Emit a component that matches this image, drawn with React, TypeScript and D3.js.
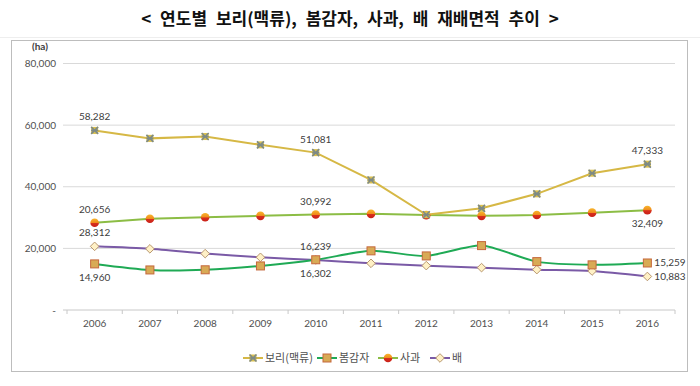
import React from "react";
import * as d3 from "d3";

const years = ["2006","2007","2008","2009","2010","2011","2012","2013","2014","2015","2016"];
const barley = [58282, 55700, 56300, 53600, 51081, 42200, 30900, 33000, 37700, 44400, 47333];
const potato = [14960, 13000, 13050, 14300, 16302, 19200, 17550, 20900, 15700, 14650, 15259];
const apple = [28312, 29600, 30100, 30550, 30992, 31200, 30800, 30550, 30850, 31600, 32409];
const pear = [20656, 19850, 18300, 17100, 16239, 15150, 14400, 13750, 13100, 12650, 10883];
const yTicks = [0, 20000, 40000, 60000, 80000];
const seriesNames = ["보리(맥류)", "봄감자", "사과", "배"];

// data labels: series index, year index, text, placement
const labels = [
  { s: 0, i: 0, text: "58,282", pos: "above" },
  { s: 0, i: 4, text: "51,081", pos: "above" },
  { s: 0, i: 10, text: "47,333", pos: "above" },
  { s: 2, i: 0, text: "20,656", pos: "above" },
  { s: 2, i: 4, text: "30,992", pos: "above" },
  { s: 2, i: 10, text: "32,409", pos: "below" },
  { s: 3, i: 0, text: "28,312", pos: "above" },
  { s: 1, i: 0, text: "14,960", pos: "below" },
  { s: 3, i: 4, text: "16,239", pos: "above" },
  { s: 1, i: 4, text: "16,302", pos: "below" },
  { s: 1, i: 10, text: "15,259", pos: "right" },
  { s: 3, i: 10, text: "10,883", pos: "right" },
];

const W = 700, H = 386;
const plot = { left: 67, right: 675, top: 63.5, bottom: 310 };
const numFont = "Lato, 'Noto Sans', sans-serif";
const krFont = "'Noto Sans CJK KR', 'Noto Sans', sans-serif";

const colors = {
  barley: "#d6b845",
  potato: "#1faa55",
  apple: "#8cbd45",
  pear: "#7a5aa6",
};

function Marker({ kind, x, y }: { kind: number; x: number; y: number }) {
  if (kind === 0) {
    const s = 3.5;
    return (
      <g transform={`translate(${x},${y})`}>
        <rect x={-s} y={-s} width={2 * s} height={2 * s} fill="#d9bf4e" />
        <path d={`M${-s},${-s}L${s},${s}M${-s},${s}L${s},${-s}M${-s},0L${s},0`} stroke="#7d8a86" strokeWidth={1.6} />
      </g>
    );
  }
  if (kind === 1) {
    const s = 4;
    return <rect x={x - s} y={y - s} width={2 * s} height={2 * s} fill="#d8aa55" stroke="#c5683c" strokeWidth={1} />;
  }
  if (kind === 2) {
    return <circle cx={x} cy={y} r={4.3} fill="url(#appleGrad)" />;
  }
  const s = 4.3;
  return (
    <path d={`M${x},${y - s}L${x + s},${y}L${x},${y + s}L${x - s},${y}Z`} fill="#fff1c6" stroke="#b89770" strokeWidth={1} />
  );
}

export default function App() {
  const x = d3.scaleBand<string>().domain(years).range([plot.left, plot.right]).padding(0);
  const y = d3.scaleLinear().domain([0, 80000]).range([plot.bottom, plot.top]);
  const cx = (i: number) => (x(years[i]) as number) + x.bandwidth() / 2;

  const data = [barley, potato, apple, pear];
  const lineColors = [colors.barley, colors.potato, colors.apple, colors.pear];
  const straight = d3.line<number>().x((_, i) => cx(i)).y((d) => y(d));
  const smooth = d3.line<number>().x((_, i) => cx(i)).y((d) => y(d)).curve(d3.curveCardinal.tension(0.3));
  const gens = [straight, smooth, straight, smooth];
  const drawOrder = [2, 3, 1, 0];

  const fmt = (v: number) => (v === 0 ? "-" : d3.format(",")(v));

  const boundaries = years.map((yy) => x(yy) as number).concat([plot.right]);

  const legendItems = [
    { x: 243, w: 20 },
    { x: 317, w: 20 },
    { x: 378, w: 20 },
    { x: 430, w: 20 },
  ];

  return (
    <svg width={W} height={H} style={{ position: "absolute", left: 0, top: 0, background: "#fff" }}>
      <defs>
        <linearGradient id="appleGrad" x1="0" y1="0" x2="0" y2="1">
          <stop offset="0" stopColor="#f7b52c" />
          <stop offset="0.5" stopColor="#f08a1c" />
          <stop offset="0.55" stopColor="#d8301c" />
          <stop offset="1" stopColor="#c8201a" />
        </linearGradient>
      </defs>
      <rect x={0} y={0} width={W} height={H} fill="#fff" />
      <text x={350} y={25} textAnchor="middle" fontFamily={krFont} fontWeight={700} fontSize={17} wordSpacing={5} fill="#111">
        {"< 연도별 보리(맥류), 봄감자, 사과, 배 재배면적 추이 >"}
      </text>
      <line x1={0} x2={W} y1={37.5} y2={37.5} stroke="#eeeeee" />
      <rect x={11.5} y={40.5} width={676} height={331} fill="#fff" stroke="#bdbdbd" strokeWidth={1} />

      {/* gridlines */}
      {yTicks.map((t) => (
        <g key={t}>
          {t > 0 && <line x1={plot.left - 4} x2={plot.right} y1={y(t)} y2={y(t)} stroke="#d9d9d9" strokeWidth={1} />}
          <text x={56} y={y(t) + 3.5} textAnchor="end" fontFamily={numFont} fontSize={10} fill="#505050">
            {fmt(t)}
          </text>
        </g>
      ))}
      <text x={40} y={50} textAnchor="middle" fontFamily={numFont} fontWeight={700} fontSize={10} fill="#404040">
        (ha)
      </text>

      {/* x axis */}
      <line x1={plot.left - 4} x2={plot.right} y1={plot.bottom} y2={plot.bottom} stroke="#c8c8c8" />
      {boundaries.map((b, i) => (
        <line key={i} x1={b} x2={b} y1={plot.bottom} y2={plot.bottom + 4} stroke="#c8c8c8" />
      ))}
      {years.map((yy, i) => (
        <text key={yy} x={cx(i)} y={plot.bottom + 17} textAnchor="middle" fontFamily={numFont} fontSize={10} fill="#505050">
          {yy}
        </text>
      ))}

      {/* lines */}
      {drawOrder.map((s) => (
        <path key={s} d={gens[s](data[s]) as string} fill="none" stroke={lineColors[s]} strokeWidth={2} />
      ))}
      {drawOrder.map((s) => (
        <g key={"m" + s}>
          {data[s].map((v, i) => (
            <Marker key={i} kind={s} x={cx(i)} y={y(v)} />
          ))}
        </g>
      ))}

      {/* data labels */}
      {labels.map((l, k) => {
        const px = cx(l.i);
        const py = y(data[l.s][l.i]);
        let tx = px, ty = py, anchor: "middle" | "start" = "middle";
        if (l.pos === "above") ty = py - 10;
        else if (l.pos === "below") ty = py + 17;
        else { tx = px + 7; ty = py + 3.5; anchor = "start"; }
        return (
          <text key={k} x={tx} y={ty} textAnchor={anchor} fontFamily={numFont} fontSize={10} fill="#404040">
            {l.text}
          </text>
        );
      })}

      {/* legend */}
      {legendItems.map((it, s) => (
        <g key={"lg" + s}>
          <line x1={it.x} x2={it.x + it.w} y1={358} y2={358} stroke={lineColors[s]} strokeWidth={2} />
          <Marker kind={s} x={it.x + it.w / 2} y={358} />
          <text x={it.x + it.w + 2} y={362} fontFamily={krFont} fontSize={11} fill="#505050">
            {seriesNames[s]}
          </text>
        </g>
      ))}
    </svg>
  );
}
